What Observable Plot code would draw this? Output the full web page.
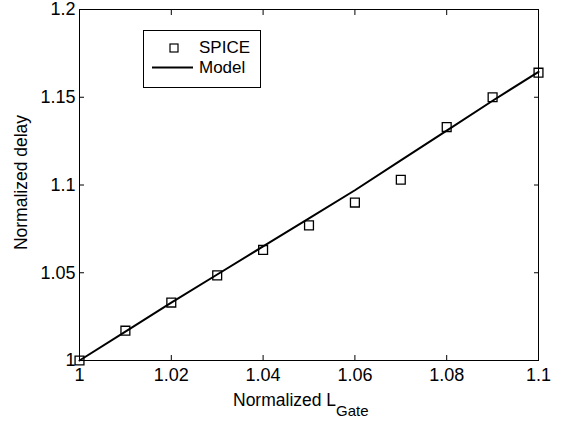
<!DOCTYPE html>
<html><head><meta charset="utf-8">
<script src="https://cdn.jsdelivr.net/npm/d3@7"></script>
<script src="https://cdn.jsdelivr.net/npm/@observablehq/plot@0.6"></script>
<style>body{margin:0;background:#fff} svg{display:block}</style>
</head><body><div id="chart"></div>
<script>
const lGate = [1.00, 1.01, 1.02, 1.03, 1.04, 1.05, 1.06, 1.07, 1.08, 1.09, 1.10];
const spiceDelay = [1.000, 1.017, 1.033, 1.0485, 1.063, 1.077, 1.090, 1.103, 1.133, 1.150, 1.164];
const modelDelay = [1.000, 1.0165, 1.033, 1.049, 1.065, 1.081, 1.097, 1.114, 1.131, 1.148, 1.1645];
const xTicks = [1, 1.02, 1.04, 1.06, 1.08, 1.1];
const yTicks = [1, 1.05, 1.1, 1.15, 1.2];
const seriesNames = ["SPICE", "Model"];
const xLabel = "Normalized L";
const xLabelSub = "Gate";
const yLabel = "Normalized delay";

const spice = lGate.map((x, i) => ({x, y: spiceDelay[i]}));
const model = lGate.map((x, i) => ({x, y: modelDelay[i]}));
const fmt = d => String(+d.toFixed(2));
const blank = () => "";
const font = "'Liberation Sans', Arial, sans-serif";

const plot = Plot.plot({
  width: 564, height: 424,
  marginLeft: 79, marginRight: 26, marginTop: 9, marginBottom: 64,
  style: {fontFamily: font, fontSize: "18px", color: "black", background: "white", overflow: "visible"},
  x: {domain: [1, 1.1]},
  y: {domain: [1, 1.2]},
  marks: [
    Plot.axisX({ticks: xTicks, anchor: "bottom", tickSize: 0, tickPadding: 8, tickFormat: fmt, label: null, fontSize: 18}),
    Plot.axisX({ticks: xTicks, anchor: "bottom", tickSize: 5, dy: -5, tickFormat: blank, label: null}),
    Plot.axisX({ticks: xTicks, anchor: "top", tickSize: 5, dy: 5, tickFormat: blank, label: null}),
    Plot.axisY({ticks: yTicks, anchor: "left", tickSize: 0, tickPadding: 4, tickFormat: fmt, label: null, fontSize: 18}),
    Plot.axisY({ticks: yTicks, anchor: "left", tickSize: 5, dx: 5, tickFormat: blank, label: null}),
    Plot.axisY({ticks: yTicks, anchor: "right", tickSize: 5, dx: -5, tickFormat: blank, label: null}),
    Plot.frame({stroke: "black", strokeWidth: 1}),
    Plot.line(model, {x: "x", y: "y", stroke: "black", strokeWidth: 2}),
    Plot.dot(spice, {x: "x", y: "y", symbol: "square", r: 5, stroke: "black", fill: "none", strokeWidth: 1.3})
  ]
});

const svg = d3.select(plot);
const ys = plot.scale("y");
const cy = (ys.range[0] + ys.range[1]) / 2;

const xl = svg.append("text").attr("x", 233).attr("y", 406).attr("text-anchor", "start")
  .attr("font-family", font).attr("font-size", 17.5).attr("fill", "black");
xl.append("tspan").text(xLabel);
xl.append("tspan").attr("dy", 10).attr("font-size", 15).text(xLabelSub);

svg.append("text").attr("transform", `translate(27,${cy - 2}) rotate(-90)`).attr("text-anchor", "middle")
  .attr("font-family", font).attr("font-size", 17.5).attr("fill", "black").text(yLabel);

const lg = svg.append("g").attr("font-family", font).attr("font-size", 17).attr("text-anchor", "start").attr("fill", "black");
lg.append("rect").attr("x", 143.5).attr("y", 30.5).attr("width", 117).attr("height", 57)
  .attr("fill", "white").attr("stroke", "black");
lg.append("rect").attr("x", 170).attr("y", 44).attr("width", 8).attr("height", 8)
  .attr("fill", "none").attr("stroke", "black").attr("stroke-width", 1.2);
lg.append("line").attr("x1", 152).attr("x2", 193).attr("y1", 67.5).attr("y2", 67.5)
  .attr("stroke", "black").attr("stroke-width", 2);
lg.append("text").attr("x", 199).attr("y", 53).attr("text-anchor", "start").text(seriesNames[0]);
lg.append("text").attr("x", 199).attr("y", 73).attr("text-anchor", "start").text(seriesNames[1]);

document.getElementById("chart").appendChild(plot);
</script>
</body></html>
